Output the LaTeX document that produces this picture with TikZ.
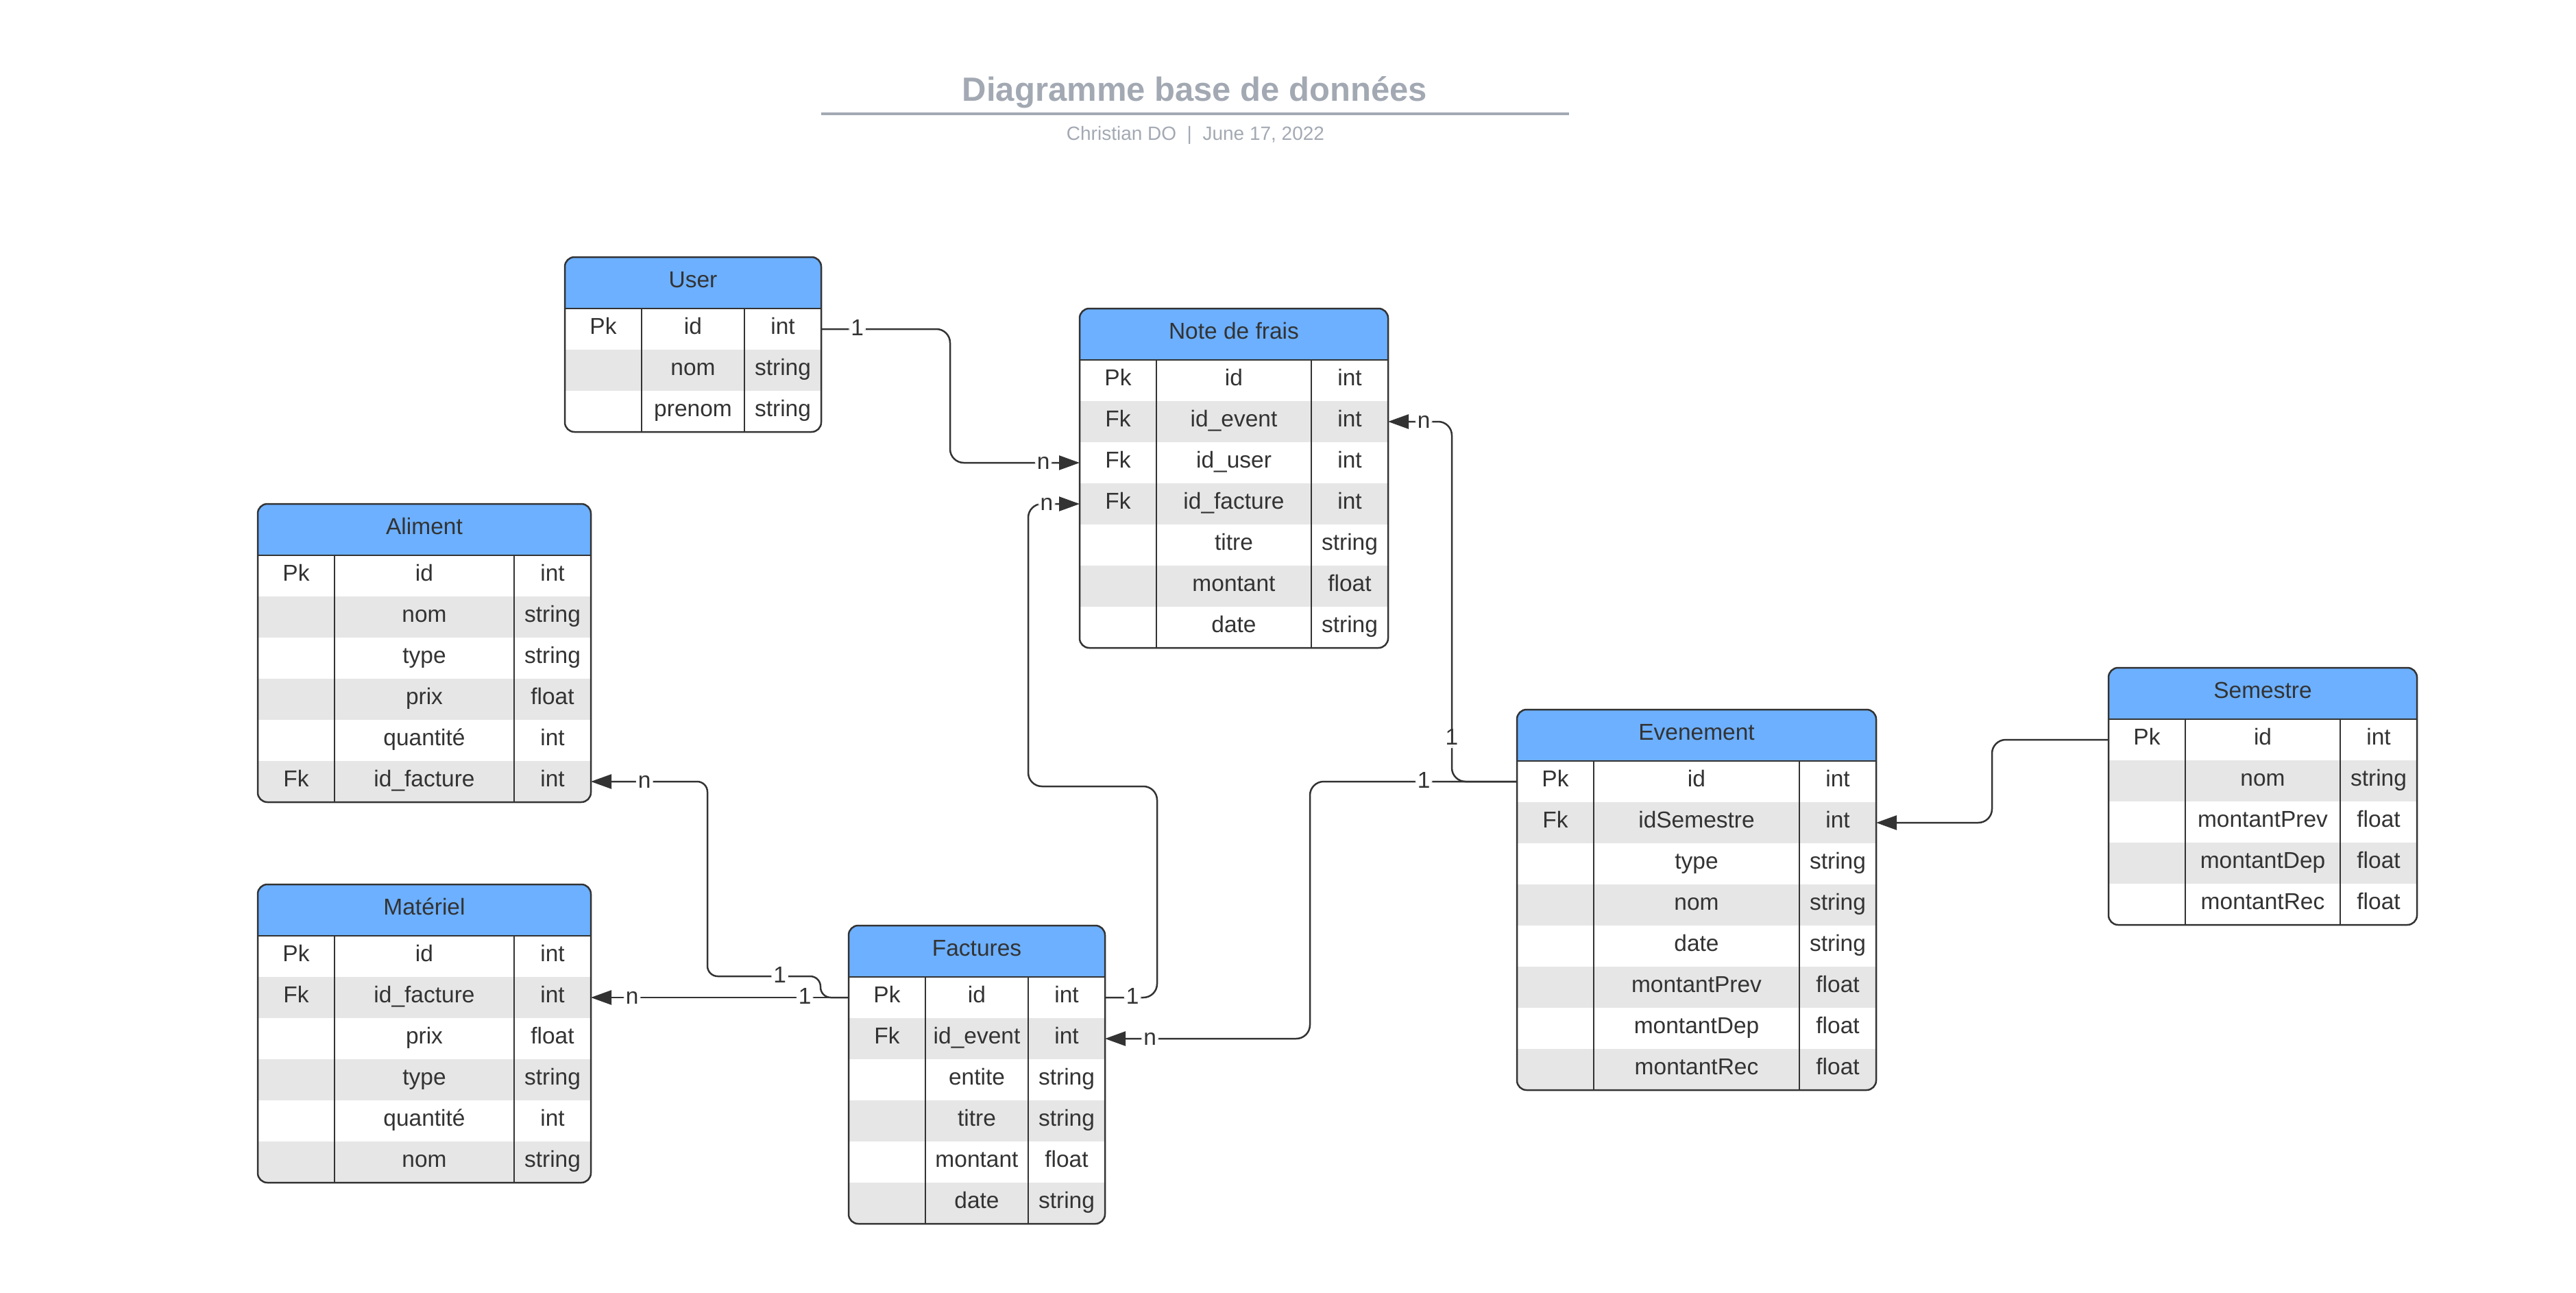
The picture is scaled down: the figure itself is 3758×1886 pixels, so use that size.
\documentclass[tikz,border=0pt]{standalone}
\usepackage{fontspec}
\setmainfont{Liberation Sans}
\usetikzlibrary{arrows.meta}

\definecolor{headblue}{HTML}{6CB0FF}
\definecolor{stripe}{HTML}{E6E6E6}
\definecolor{ink}{HTML}{333333}
\definecolor{titlegray}{HTML}{A3A9B3}

\newcommand{\tabfont}{\fontsize{33.5}{40}\selectfont}

% #1 name, #2 left, #3 top, #4 middle column width, #5 rows, #6 title, #7 fields
\newcommand{\erdtable}[7]{%
	\pgfmathsetmacro{\tabw}{224+#4}
	\pgfmathsetmacro{\tabh}{75+60*#5}
	\begin{scope}
		\clip[rounded corners=14pt] (#2,#3) rectangle ++(\tabw,\tabh);
		\node[tabhead, minimum width=\tabw pt, anchor=north west] (#1) at (#2,#3) {#6};
		\foreach \ky/\fd/\ty [count=\i] in {#7} {
			\ifodd\i \def\rowfill{white}\else \def\rowfill{stripe}\fi
			\node[rowbox, fill=\rowfill, minimum width=\tabw pt, anchor=north west] (#1-\i) at (#2,#3+15+60*\i) {};
			\node[cell] (#1-\i-k) at (#2+56,#3+45+60*\i) {\ky};
			\node[cell] (#1-\i-f) at (#2+112+#4/2,#3+45+60*\i) {\fd};
			\node[cell] (#1-\i-t) at (#2+168+#4,#3+45+60*\i) {\ty};
		}
	\end{scope}
	\draw[colline] (#2+112,#3+75) -- ++(0,60*#5) (#2+112+#4,#3+75) -- ++(0,60*#5);
	\draw[tabline] (#2,#3+75) -- ++(\tabw,0);
	\draw[tabline, rounded corners=14pt] (#2,#3) rectangle ++(\tabw,\tabh);
}

\begin{document}
\begin{tikzpicture}[
x=1pt, y=-1pt,
tabhead/.style={fill=headblue, text=ink, font=\tabfont, minimum height=75pt, inner sep=0pt, outer sep=0pt, text height=24pt, text depth=10pt},
rowbox/.style={minimum height=60pt, inner sep=0pt, outer sep=0pt},
cell/.style={text=ink, font=\tabfont, inner sep=0pt, text height=24pt, text depth=10pt},
tabline/.style={draw=ink, line width=2.5pt},
colline/.style={draw=ink, line width=1.6pt},
link/.style={draw=ink, line width=2.5pt, rounded corners=20pt, -{Triangle[length=30pt,width=21pt]}},
card/.style={fill=white, text=ink, font=\tabfont, inner sep=3pt, text height=20pt, text depth=2pt},
]
	\useasboundingbox (0,0) rectangle (3758,1886);

	% title block
	\node[anchor=base, text=titlegray, font=\fontsize{49}{58}\selectfont\bfseries] (title) at (1743,148) {Diagramme base de données};
	\draw[titlegray, line width=3.5pt] (1198,166) -- (2289,166);
	\node[anchor=base, text=titlegray, font=\fontsize{28}{34}\selectfont] (byline) at (1744,205) {Christian DO~~|~~June 17, 2022};

	% tables
	\erdtable{user}{824}{375}{150}{3}{User}{Pk/id/int, {}/nom/string, {}/prenom/string}
	\erdtable{ndf}{1575}{450}{226}{7}{Note de frais}{Pk/id/int, Fk/id\_event/int, Fk/id\_user/int, Fk/id\_facture/int, {}/titre/string, {}/montant/float, {}/date/string}
	\erdtable{ali}{376}{735}{262}{6}{Aliment}{Pk/id/int, {}/nom/string, {}/type/string, {}/prix/float, {}/quantité/int, Fk/id\_facture/int}
	\erdtable{mat}{376}{1290}{262}{6}{Matériel}{Pk/id/int, Fk/id\_facture/int, {}/prix/float, {}/type/string, {}/quantité/int, {}/nom/string}
	\erdtable{fac}{1238}{1350}{150}{6}{Factures}{Pk/id/int, Fk/id\_event/int, {}/entite/string, {}/titre/string, {}/montant/float, {}/date/string}
	\erdtable{eve}{2213}{1035}{300}{8}{Evenement}{Pk/id/int, Fk/idSemestre/int, {}/type/string, {}/nom/string, {}/date/string, {}/montantPrev/float, {}/montantDep/float, {}/montantRec/float}
	\erdtable{sem}{3076}{974}{226}{5}{Semestre}{Pk/id/int, {}/nom/string, {}/montantPrev/float, {}/montantDep/float, {}/montantRec/float}

	% relations
	\draw[link] (user-1.east) -- node[card,pos=.28]{1} ++(188,0) |- node[card,pos=.86]{n} (ndf-3.west);
	\draw[link] (fac-1.east) -- node[card,pos=.53]{1} ++(76,0) -- ++(0,-308) -- ++(-188,0) |- node[card,pos=.68]{n} (ndf-4.west);
	\draw[link] (eve-1.west) -- node[card,pos=.45]{1} ++(-302,0) |- node[card,pos=.89]{n} (fac-2.east);
	\draw[link] (eve-1.west) -- ++(-95,0) |- node[card,pos=.06]{1} node[card,pos=.72]{n} (ndf-2.east);
	\draw[link] (sem-1.west) -- ++(-170,0) |- (eve-2.east);
	\draw[link, rounded corners=15pt] (fac-1.west) -- ++(-41,0) -- ++(0,-31) -- node[card,pos=.36]{1} ++(-165,0) |- node[card,pos=.77]{n} (ali-6.east);
	\draw[link] (fac-1.west) -- node[card,pos=.17]{1} node[card,pos=.84]{n} (mat-2.east);
\end{tikzpicture}
\end{document}
